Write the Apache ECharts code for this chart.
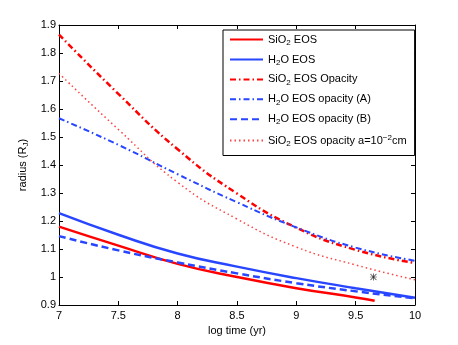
<!DOCTYPE html>
<html>
<head>
<meta charset="utf-8">
<script src="https://cdn.jsdelivr.net/npm/echarts@6/dist/echarts.min.js"></script>
<style>
    html, body { margin: 0; padding: 0; background: #fff; }
    #radius-chart { width: 458px; height: 345px; }
</style>
</head>
<body>
<div id="radius-chart"></div>
<script>
// 读图得到的数据 (log time / radius)
var logTime = [7, 7.5, 8, 8.5, 9, 9.5, 10];
var sio2EosTime = [7, 7.5, 8, 8.5, 9, 9.5, 9.66];
var sio2Eos = [1.18, 1.112, 1.047, 1.0, 0.96, 0.927, 0.915];
var h2oEos = [1.228, 1.151, 1.084, 1.037, 0.996, 0.96, 0.926];
var sio2EosOpacity = [1.866, 1.654, 1.456, 1.298, 1.176, 1.097, 1.05];
var h2oEosOpacityA = [1.567, 1.472, 1.367, 1.267, 1.177, 1.105, 1.058];
var h2oEosOpacityB = [1.146, 1.095, 1.052, 1.013, 0.978, 0.949, 0.924];
var sio2EosOpacitySmall = [1.727, 1.527, 1.338, 1.207, 1.107, 1.043, 0.99];
var markerPoint = [9.65, 1.0];

var xTicks = { min: 7, max: 10, interval: 0.5 };
var yTicks = { min: 0.9, max: 1.9, interval: 0.1 };

var FONT = 'Liberation Sans';
var RED = '#ff0000';
var BLUE = '#2846ff';

function pairs(xs, ys) {
    var out = [];
    for (var i = 0; i < xs.length; i++) {
        out.push([xs[i], ys[i]]);
    }
    return out;
}

// 图例文字 (下标/上标)
var legendText = {
    'SiO2 EOS': '{n|SiO}{s|2}{n| EOS}',
    'H2O EOS': '{n|H}{s|2}{n|O EOS}',
    'SiO2 EOS Opacity': '{n|SiO}{s|2}{n| EOS Opacity}',
    'H2O EOS opacity (A)': '{n|H}{s|2}{n|O EOS opacity (A)}',
    'H2O EOS opacity (B)': '{n|H}{s|2}{n|O EOS opacity (B)}',
    'SiO2 EOS opacity small': '{n|SiO}{s|2}{n| EOS opacity a=10}{p|\u22122}{n|cm}'
};

var richStyle = {
    n: { fontFamily: FONT, fontSize: 11, lineHeight: 14, color: '#000' },
    s: { fontFamily: FONT, fontSize: 8, lineHeight: 7, verticalAlign: 'bottom', color: '#000' },
    p: { fontFamily: FONT, fontSize: 8, lineHeight: 7, verticalAlign: 'top', color: '#000' }
};

function lineSeries(name, xs, ys, color, width, dash) {
    return {
        name: name,
        type: 'line',
        data: pairs(xs, ys),
        smooth: 0.5,
        showSymbol: false,
        symbol: 'none',
        lineStyle: { color: color, width: width, type: dash },
        itemStyle: { color: color },
        z: 3
    };
}

var axisCommon = {
    type: 'value',
    axisLine: { show: true, onZero: false, lineStyle: { color: '#000', width: 1 } },
    axisTick: { show: true, inside: true, length: 4, lineStyle: { color: '#000' } },
    splitLine: { show: false }
};

function initChart() {
    var myChart = echarts.init(document.getElementById('radius-chart'), null, { renderer: 'canvas' });

    var option = {
        backgroundColor: '#fff',
        animation: false,
        grid: { left: 59, right: 43, top: 25, bottom: 40 },
        legend: {
            data: ['SiO2 EOS', 'H2O EOS', 'SiO2 EOS Opacity', 'H2O EOS opacity (A)', 'H2O EOS opacity (B)', 'SiO2 EOS opacity small'],
            orient: 'vertical',
            left: 223,
            top: 30,
            itemWidth: 33,
            itemHeight: 14,
            itemGap: 7.3,
            padding: [4, 8, 8, 6],
            borderColor: '#000',
            borderWidth: 1,
            backgroundColor: '#fff',
            itemStyle: { opacity: 0 },
            textStyle: { rich: richStyle },
            formatter: function (name) {
                return legendText[name];
            }
        },
        xAxis: [
            Object.assign({}, axisCommon, {
                position: 'bottom',
                min: xTicks.min, max: xTicks.max, interval: xTicks.interval,
                name: 'log time (yr)',
                nameLocation: 'middle',
                nameGap: 17,
                nameTextStyle: { fontFamily: FONT, fontSize: 11, color: '#000' },
                axisLabel: { fontFamily: FONT, fontSize: 11, color: '#000', margin: 5 }
            }),
            Object.assign({}, axisCommon, {
                position: 'top',
                min: xTicks.min, max: xTicks.max, interval: xTicks.interval,
                axisLabel: { show: false }
            })
        ],
        yAxis: [
            Object.assign({}, axisCommon, {
                position: 'left',
                min: yTicks.min, max: yTicks.max, interval: yTicks.interval,
                name: '{n|radius (R}{s|J}{n|)}',
                nameLocation: 'middle',
                nameGap: 23,
                nameTextStyle: { rich: richStyle },
                axisLabel: { fontFamily: FONT, fontSize: 11, color: '#000', margin: 3 }
            }),
            Object.assign({}, axisCommon, {
                position: 'right',
                min: yTicks.min, max: yTicks.max, interval: yTicks.interval,
                axisLabel: { show: false }
            })
        ],
        series: [
            lineSeries('SiO2 EOS', sio2EosTime, sio2Eos, RED, 2.5, 'solid'),
            lineSeries('H2O EOS', logTime, h2oEos, BLUE, 2.5, 'solid'),
            lineSeries('SiO2 EOS Opacity', logTime, sio2EosOpacity, RED, 2.5, [6, 3, 1.5, 3]),
            lineSeries('H2O EOS opacity (A)', logTime, h2oEosOpacityA, BLUE, 2, [6, 3, 1.5, 3]),
            lineSeries('H2O EOS opacity (B)', logTime, h2oEosOpacityB, BLUE, 2.5, [7, 4]),
            lineSeries('SiO2 EOS opacity small', logTime, sio2EosOpacitySmall, '#ff4444', 1.5, [1.5, 3]),
            {
                // 星号标记
                name: 'marker',
                type: 'scatter',
                data: [markerPoint],
                symbol: 'path://M4.5,0L5.5,0L5.5,10L4.5,10Z M0,4.5L10,4.5L10,5.5L0,5.5Z M1.1,0.4L9.6,8.9L8.9,9.6L0.4,1.1Z M8.9,0.4L9.6,1.1L1.1,9.6L0.4,8.9Z',
                symbolSize: 7,
                itemStyle: { color: '#000' },
                z: 4
            }
        ]
    };

    myChart.setOption(option);
}

initChart();
</script>
</body>
</html>
